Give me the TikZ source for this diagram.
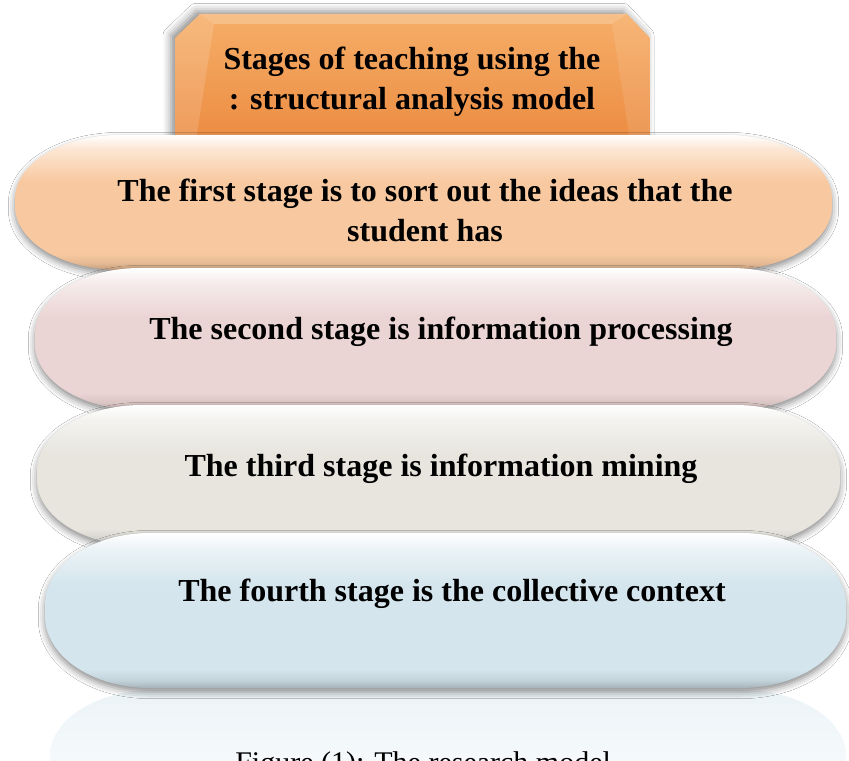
\documentclass[tikz,border=0pt]{standalone}
\usepackage{fontspec}
\setmainfont{Liberation Serif}
\usetikzlibrary{shadows.blur}

\definecolor{boxtop}{HTML}{F6AE68}
\definecolor{boxbot}{HTML}{EC8C42}
\definecolor{stageA}{HTML}{F8C9A0}
\definecolor{stageB}{HTML}{EBD5D4}
\definecolor{stageC}{HTML}{E7E5DE}
\definecolor{stageD}{HTML}{D4E5ED}
\colorlet{pillcol}{stageA}

% glossy vertical fill: dark rim at the bottom, white highlight at the top
\pgfdeclareverticalshading[pillcol]{glossy}{100bp}{%
  color(0bp)=(pillcol!70!black);
  color(25bp)=(pillcol!78!black);
  color(27.5bp)=(pillcol!92!black);
  color(31bp)=(pillcol);
  color(58bp)=(pillcol);
  color(70bp)=(pillcol!45!white);
  color(75bp)=(white);
  color(100bp)=(white)}

% stage band outline: #1 left, #2 bottom, #3 right, #4 top, #5 vertical radius
\newcommand\stagepill[5]{%
  (#1+105,#4) -- (#3-105,#4)
  arc[start angle=90,end angle=0,x radius=105,y radius=#5] -- (#3,#2+#5)
  arc[start angle=0,end angle=-90,x radius=105,y radius=#5] -- (#1+105,#2)
  arc[start angle=270,end angle=180,x radius=105,y radius=#5] -- (#1,#4-#5)
  arc[start angle=180,end angle=90,x radius=105,y radius=#5] -- cycle}

\tikzset{
  bandshadow/.style={blur shadow={shadow xshift=0pt,shadow yshift=-3pt,
      shadow blur radius=5pt,shadow opacity=45}},
  stagetext/.style={font=\bfseries\fontsize{24}{30}\selectfont,align=center,
      inner sep=0pt},
}

\begin{document}
\begin{tikzpicture}[x=0.75pt,y=0.75pt]
  \fill[white] (0,0) rectangle (849,760);
  \useasboundingbox (0,0) rectangle (849,760);
  \clip (0,0) rectangle (849,760);

  % title plate with bevelled top corners
  \shade[top color=boxtop,bottom color=boxbot,
    blur shadow={shadow xshift=-3pt,shadow yshift=2pt,shadow blur radius=6pt,shadow opacity=45}]
    (175,620) -- (175,722) -- (200,746) -- (627,746) -- (650,722) -- (650,620) -- cycle;
  \fill[white,opacity=0.22] (200,746) -- (627,746) -- (612,736) -- (214,736) -- cycle;
  \fill[white,opacity=0.14] (175,620) -- (175,722) -- (200,746) -- (214,736) -- (196,620) -- cycle;
  \fill[white,opacity=0.10] (650,620) -- (650,722) -- (627,746) -- (612,736) -- (630,620) -- cycle;
  \node[stagetext] (title) at (412,678)
    {Stages of teaching using the\\: structural analysis model};

  % first stage
  \colorlet{pillcol}{stageA}
  \shade[shading=glossy,bandshadow] \stagepill{15}{490}{832}{625}{64};
  \node[stagetext] (first) at (425,550)
    {The first stage is to sort out the ideas that the\\student has};

  % second stage
  \colorlet{pillcol}{stageB}
  \shade[shading=glossy,bandshadow] \stagepill{35}{350}{836}{492}{66};
  \node[stagetext] (second) at (441,428) {The second stage is information processing};

  % third stage
  \colorlet{pillcol}{stageC}
  \shade[shading=glossy,bandshadow] \stagepill{37}{214}{840}{355}{66};
  \node[stagetext] (third) at (441,291) {The third stage is information mining};

  % mirrored fade under the last band
  \shade[top color=stageD!45!white,bottom color=white]
    \stagepill{50}{-70}{846}{70}{66};

  % fourth stage
  \colorlet{pillcol}{stageD}
  \shade[shading=glossy,bandshadow] \stagepill{45}{72}{846}{227}{72};
  \node[stagetext] (fourth) at (452,166) {The fourth stage is the collective context};

  % caption
  \node[font=\fontsize{22.5}{26}\selectfont,anchor=base west,inner sep=0pt] (caption)
    at (235,-12) {Figure (1): The research model};
\end{tikzpicture}
\end{document}
